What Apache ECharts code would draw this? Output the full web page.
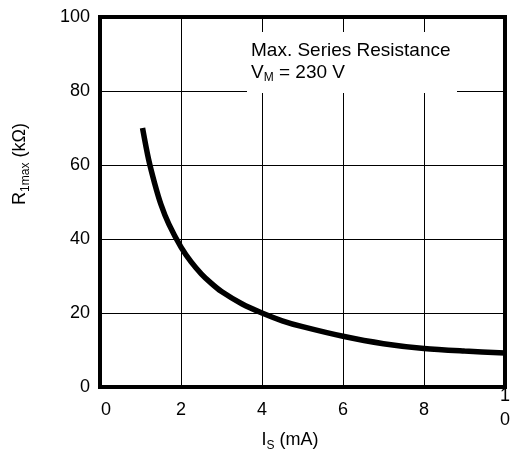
<!DOCTYPE html>
<html>
<head>
<meta charset="utf-8">
<script src="https://cdn.jsdelivr.net/npm/echarts@6/dist/echarts.min.js"></script>
<style>
  html, body { margin: 0; padding: 0; background: #fff; }
  #chart { width: 513px; height: 464px; }
</style>
</head>
<body>
<div id="chart"></div>
<script>
// 曲线数据 (I_S mA, R_1max kΩ)
const currentMA = [1.05, 1.2, 1.35, 1.5, 1.7, 2, 2.25, 2.5, 2.75, 3, 3.5, 4, 4.5, 5, 6, 7, 8, 9, 10];
const resistanceK = [70, 61.5, 55, 49.5, 44, 37.8, 33.8, 30.6, 28, 25.8, 22.5, 20, 17.9, 16.3, 13.7, 11.7, 10.4, 9.7, 9.2];
const xTicks = [0, 2, 4, 6, 8, 10];
const yTicks = [0, 20, 40, 60, 80, 100];

const FONT = 'Liberation Sans, Arial, sans-serif';
const chart = echarts.init(document.getElementById('chart'));

chart.setOption({
  animation: false,
  grid: {
    left: 100, top: 17, right: 8, bottom: 77,
    show: true, borderColor: '#000', borderWidth: 4
  },
  xAxis: {
    type: 'value',
    min: xTicks[0], max: xTicks[xTicks.length - 1], interval: 2,
    axisLine: { show: true, lineStyle: { color: '#000', width: 4 } },
    axisTick: { show: false },
    splitLine: { show: true, lineStyle: { color: '#000', width: 1 } },
    axisLabel: {
      color: '#000', fontSize: 18, fontFamily: FONT, margin: 3,
      formatter: v => v === 10 ? '{a|1}\n{b|0}' : (v === 0 ? '{z|0}' : '{n|' + v + '}'),
      rich: {
        n: { fontSize: 18, fontFamily: FONT, color: '#000', lineHeight: 40 },
        z: { fontSize: 18, fontFamily: FONT, color: '#000', lineHeight: 40, padding: [0, 0, 0, 12] },
        a: { fontSize: 18, fontFamily: FONT, color: '#000', lineHeight: 12 },
        b: { fontSize: 18, fontFamily: FONT, color: '#000', lineHeight: 36 }
      }
    }
  },
  yAxis: {
    type: 'value',
    min: yTicks[0], max: yTicks[yTicks.length - 1], interval: 20,
    axisLine: { show: true, lineStyle: { color: '#000', width: 4 } },
    axisTick: { show: false },
    splitLine: { show: true, lineStyle: { color: '#000', width: 1 } },
    axisLabel: { color: '#000', fontSize: 18, fontFamily: FONT, margin: 10 }
  },
  graphic: [
    // 注释框底色，遮住网格线
    {
      type: 'rect', z: 5,
      shape: { x: 247, y: 32, width: 210, height: 61 },
      style: { fill: '#fff' }
    },
    {
      type: 'text', z: 6, left: 251, top: 41,
      style: {
        text: '{r|Max. Series Resistance}\n{r|V}{s|M}{r| = 230 V}',
        fill: '#000',
        rich: {
          r: { fontSize: 19, fontFamily: FONT, fill: '#000', lineHeight: 22, verticalAlign: 'middle' },
          s: { fontSize: 12, fontFamily: FONT, fill: '#000', lineHeight: 12, verticalAlign: 'bottom' }
        }
      }
    },
    {
      type: 'text', z: 6, x: 20, y: 164, rotation: Math.PI / 2,
      style: {
        text: '{r|R}{s|1max}{r| (kΩ)}',
        align: 'center', verticalAlign: 'middle',
        rich: {
          r: { fontSize: 18, fontFamily: FONT, fill: '#000', lineHeight: 24, verticalAlign: 'middle' },
          s: { fontSize: 12, fontFamily: FONT, fill: '#000', lineHeight: 13, verticalAlign: 'bottom' }
        }
      }
    },
    {
      type: 'text', z: 6, x: 290, y: 440,
      style: {
        text: '{r|I}{s|S}{r| (mA)}',
        align: 'center', verticalAlign: 'middle',
        rich: {
          r: { fontSize: 18, fontFamily: FONT, fill: '#000', lineHeight: 24, verticalAlign: 'middle' },
          s: { fontSize: 12, fontFamily: FONT, fill: '#000', lineHeight: 13, verticalAlign: 'bottom' }
        }
      }
    }
  ],
  series: [{
    type: 'line',
    data: currentMA.map((x, i) => [x, resistanceK[i]]),
    smooth: 0.3,
    symbol: 'none',
    lineStyle: { color: '#000', width: 5.5 }
  }]
});
</script>
</body>
</html>
